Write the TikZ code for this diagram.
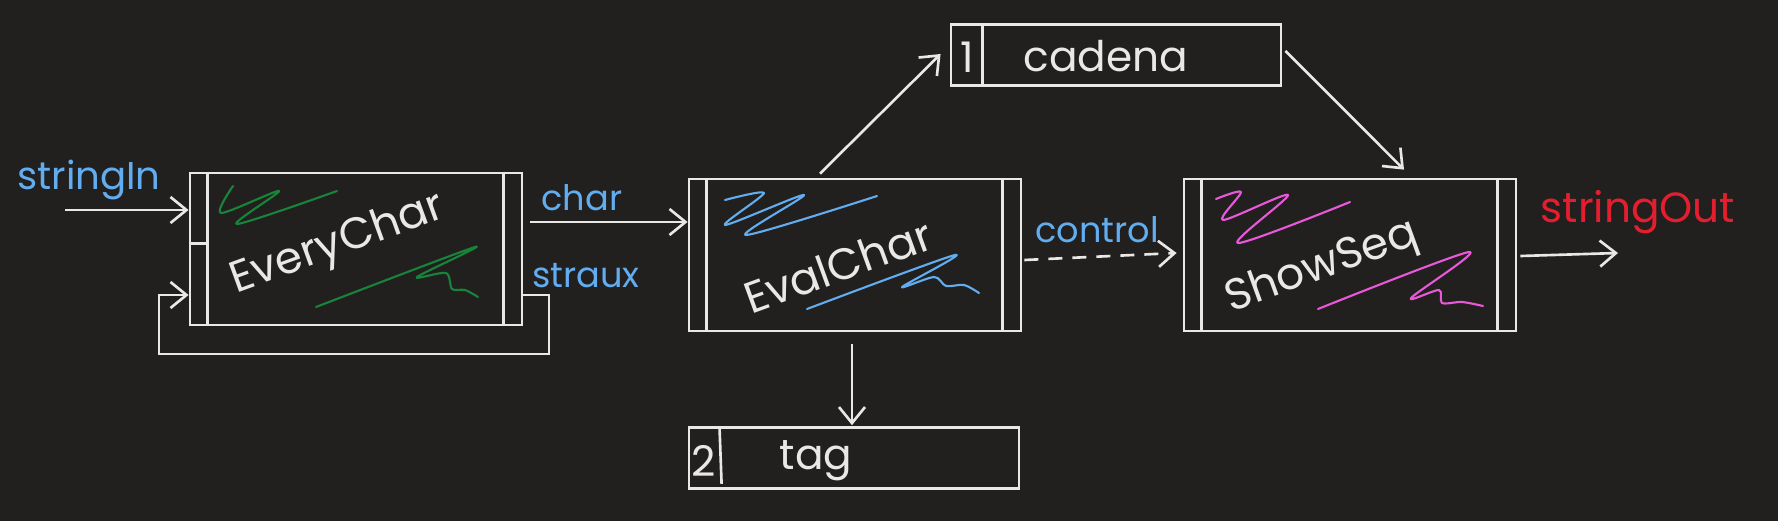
\documentclass[tikz,border=0pt]{standalone}
\usepackage{fontspec}
\setmainfont{Poppins}
\usetikzlibrary{arrows.meta,calc}

\definecolor{bg}{RGB}{33,32,31}
\definecolor{ink}{RGB}{232,232,230}
\definecolor{lblue}{RGB}{98,172,240}
\definecolor{lred}{RGB}{228,30,46}
\definecolor{sgreen}{RGB}{24,132,58}
\definecolor{spink}{RGB}{232,88,216}

\begin{document}
\begin{tikzpicture}[x=0.01cm, y=-0.01cm, line width=0.75pt, ink,
    every node/.style={font=\fontsize{12}{14}\selectfont},
    proc/.style={draw=ink, minimum width=3.32cm, minimum height=1.52cm, inner sep=0pt},
    store/.style={draw=ink, minimum width=3.3cm, minimum height=0.61cm, inner sep=0pt},
    flow/.style={draw=ink, -{Straight Barb[length=1.6mm,width=2.6mm]}},
    lbl/.style={text=lblue, font=\fontsize{10}{12}\selectfont},
    title/.style={text=ink, rotate=20, font=\fontsize{12.5}{15}\selectfont},
    scrib/.style={line width=0.6pt, line join=round, line cap=round}]
    \fill[bg] (0,0) rectangle (1778,521);
    \useasboundingbox (0,0) rectangle (1778,521);

    \node[proc] (every) at (356,249) {};
    \node[proc] (eval) at (855,255) {};
    \node[proc] (show) at (1350,255) {};
    \node[store] (cad) at (1116,55) {};
    \node[store] (tag) at (854,458) {};

    \foreach \b in {every,eval,show} {
        \draw ($(\b.north west)+(19,0)$) -- ($(\b.south west)+(19,0)$);
        \draw ($(\b.north east)+(-20,0)$) -- ($(\b.south east)+(-20,0)$);
    }
    \draw ($(every.north west)+(0,72)$) -- ++(19,0);
    \draw ($(cad.north west)+(33,0)$) -- ($(cad.south west)+(33,0)$);
    \draw ($(tag.north west)+(32,3)$) -- ($(tag.south west)+(34,-6)$);

    % scribbles
    \draw[scrib, sgreen] plot[smooth, tension=0.5] coordinates {(233,186) (221,213) (279,191) (237,224) (337,191)};
    \draw[scrib, sgreen] plot[smooth, tension=0.5] coordinates {(316,307) (475,247) (417,277) (446,273) (452,289) (465,290) (478,297)};
    \draw[scrib, lblue] plot[smooth, tension=0.5] coordinates {(725,200) (764,193) (725,225) (804,195) (746,235) (877,196)};
    \draw[scrib, lblue] plot[smooth, tension=0.5] coordinates {(807,309) (955,255) (902,287) (934,277) (946,286) (964,285) (979,293)};
    \draw[scrib, spink] plot[smooth, tension=0.5] coordinates {(1216,199) (1241,192) (1223,220) (1288,195) (1238,243) (1350,202)};
    \draw[scrib, spink] plot[smooth, tension=0.5] coordinates {(1318,309) (1469,252) (1411,298) (1439,290) (1442,303) (1462,302) (1483,306)};

    \node[title] (everyT) at (338,245) {EveryChar};
    \node[title] (evalT) at (838,266) {EvalChar};
    \node[title] (showT) at (1322,268) {ShowSeq};

    \node (cadN) at ($(cad.west)+(18,2)$) {1};
    \node (cadT) at (1106,56) {cadena};
    \node (tagN) at ($(tag.west)+(16,3)$) {2};
    \node (tagT) at (816,461) {tag};

    \node[lbl, font=\fontsize{11}{13}\selectfont] (inL) at (89,180) {stringIn};
    \node[lbl] (charL) at (582,198) {char};
    \node[lbl] (strauxL) at (586,276) {straux};
    \node[lbl] (ctrlL) at (1097,230) {control};
    \node[text=lred] (outL) at (1638,212) {stringOut};

    \coordinate (inS) at (65,210);
    \coordinate (charS) at (530,222);
    \coordinate (lpT) at (549,295);
    \coordinate (lpB) at (159,354);
    \coordinate (outE) at (1618,253);

    \draw[flow] (inS) -- (inS -| every.west);
    \draw[flow] (charS) -- (charS -| eval.west);
    \draw[flow] (every.east |- lpT) -- (lpT) |- (lpB) |- (every.west |- lpT);
    \draw[flow] ($(eval.north)+(-35,-4)$) -- ($(cad.west)+(-9,-1)$);
    \draw[flow] ($(cad.east)+(3,-4)$) -- ($(show.north)+(54,-8)$);
    \draw[flow] ($(eval.south)+(-3,12)$) -- ($(tag.north)+(-2,-1)$);
    \draw[flow, dash pattern=on 1.4mm off 1mm] ($(eval.east)+(2,5)$) -- ($(show.west)+(-6,-2)$);
    \draw[flow] ($(show.east)+(3,1)$) -- (outE);
\end{tikzpicture}
\end{document}
